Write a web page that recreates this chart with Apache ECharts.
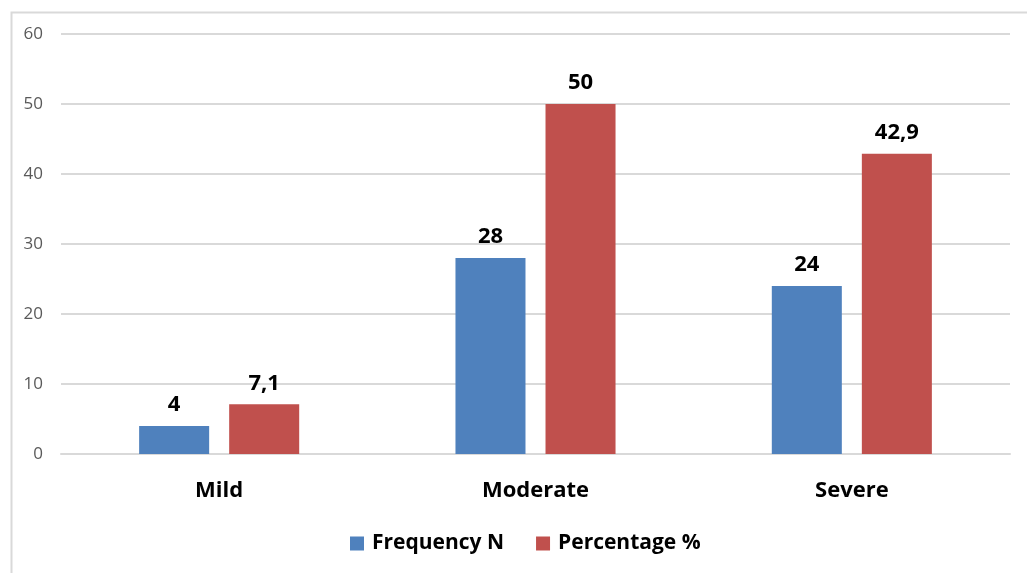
<!DOCTYPE html>
<html>
<head>
<meta charset="utf-8">
<script src="https://cdn.jsdelivr.net/npm/echarts@6/dist/echarts.min.js"></script>
<style>
html,body{margin:0;padding:0;background:#fff;}
#c{width:1027px;height:573px;}
</style>
</head>
<body>
<div id="c"></div>
<script>
var categories = ['Mild', 'Moderate', 'Severe'];
var frequencyN = [4, 28, 24];
var percentage = [7.1, 50, 42.9];
var seriesNames = ['Frequency N', 'Percentage %'];
var yTicks = {min: 0, max: 60, interval: 10};

var chart = echarts.init(document.getElementById('c'));
var FONT = '"Open Sans", sans-serif';
function fmt(p){ return String(p.value).replace('.', ','); }
chart.setOption({
  animation: false,
  textStyle: {fontFamily: FONT},
  graphic: [{
    type: 'rect', left: 9, top: 10, silent: true, z: -1,
    shape: {width: 1100, height: 700},
    style: {fill: 'none', stroke: '#d9d9d9', lineWidth: 2}
  }],
  grid: {left: 61, right: 17, top: 34, bottom: 119, containLabel: false},
  legend: {
    data: seriesNames,
    bottom: 14, left: 345,
    itemWidth: 14, itemHeight: 14, itemGap: 32,
    icon: 'rect',
    textStyle: {fontFamily: FONT, fontSize: 21, fontWeight: 'bold', color: '#000', padding: [0, 0, 0, 3]}
  },
  xAxis: {
    type: 'category', data: categories,
    axisLine: {show: true, lineStyle: {color: '#d9d9d9', width: 2}},
    axisTick: {show: false},
    axisLabel: {fontFamily: FONT, fontSize: 22, fontWeight: 'bold', color: '#000', margin: 26}
  },
  yAxis: {
    type: 'value', min: yTicks.min, max: yTicks.max, interval: yTicks.interval,
    axisLine: {show: false}, axisTick: {show: false},
    axisLabel: {fontFamily: FONT, fontSize: 17, color: '#595959', margin: 18},
    splitLine: {lineStyle: {color: '#d9d9d9', width: 2}}
  },
  series: [{
    name: seriesNames[0], type: 'bar', data: frequencyN,
    barGap: '28.6%', barCategoryGap: '49.4%',
    itemStyle: {color: '#4F81BD'},
    label: {show: true, position: 'top', distance: 10, formatter: fmt,
      fontFamily: FONT, fontSize: 22, fontWeight: 'bold', color: '#000'}
  }, {
    name: seriesNames[1], type: 'bar', data: percentage,
    barGap: '28.6%', barCategoryGap: '49.4%',
    itemStyle: {color: '#C0504D'},
    label: {show: true, position: 'top', distance: 10, formatter: fmt,
      fontFamily: FONT, fontSize: 22, fontWeight: 'bold', color: '#000'}
  }]
});
</script>
</body>
</html>
